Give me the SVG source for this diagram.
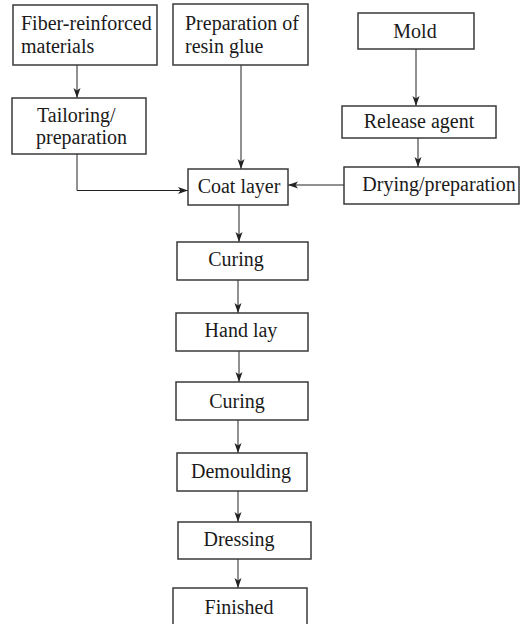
<svg xmlns="http://www.w3.org/2000/svg" width="523" height="624" viewBox="0 0 523 624">
<style>
.box{fill:#fff;stroke:#3a3a3a;stroke-width:1.5}
.t{font-family:"Liberation Serif","Times New Roman",serif;font-size:20px;fill:#1a1a1a}
.m{text-anchor:middle}
.c{fill:none;stroke:#222;stroke-width:1;marker-end:url(#ah)}
</style>
<defs>
<marker id="ah" viewBox="0 0 10 10" refX="10" refY="5" markerWidth="10" markerHeight="10" markerUnits="userSpaceOnUse" orient="auto">
<path d="M0,1.5 L10,5 L0,8.5 L2.5,5 Z" fill="#222"/>
</marker>
</defs>
<rect width="523" height="624" fill="#fff"/>
<g id="connectors">
<path class="c" d="M77,65 V98"/>
<path class="c" d="M241,65 V169"/>
<path class="c" d="M77,154 V190.5 H188"/>
<path class="c" d="M416,49 V106"/>
<path class="c" d="M418,138 V167"/>
<path class="c" d="M344,185 H288"/>
<path class="c" d="M239,205 V242"/>
<path class="c" d="M238,280 V313"/>
<path class="c" d="M239,351 V382"/>
<path class="c" d="M238,420 V453"/>
<path class="c" d="M238,491 V522"/>
<path class="c" d="M238,559 V588"/>
</g>
<g id="fiber"><rect class="box" x="13" y="5" width="144" height="60"/><text class="t" x="21" y="30">Fiber-reinforced</text><text class="t" x="21" y="53">materials</text></g>
<g id="resin"><rect class="box" x="173" y="4" width="135" height="61"/><text class="t" x="185" y="30">Preparation of</text><text class="t" x="185" y="53">resin glue</text></g>
<g id="mold"><rect class="box" x="358" y="13" width="116" height="36"/><text class="t m" x="415" y="38">Mold</text></g>
<g id="tailoring"><rect class="box" x="12" y="98" width="134" height="56"/><text class="t" x="37" y="122">Tailoring/</text><text class="t" x="36" y="144">preparation</text></g>
<g id="release"><rect class="box" x="342" y="106" width="154" height="32"/><text class="t m" x="419" y="128">Release agent</text></g>
<g id="drying"><rect class="box" x="344" y="167" width="175" height="37"/><text class="t m" x="439" y="191">Drying/preparation</text></g>
<g id="coat"><rect class="box" x="188" y="169" width="100" height="36"/><text class="t m" x="239" y="193">Coat layer</text></g>
<g id="curing1"><rect class="box" x="177" y="242" width="131" height="38"/><text class="t m" x="236" y="266">Curing</text></g>
<g id="handlay"><rect class="box" x="176" y="313" width="132" height="38"/><text class="t m" x="241" y="337">Hand lay</text></g>
<g id="curing2"><rect class="box" x="176" y="382" width="132" height="38"/><text class="t m" x="237" y="408">Curing</text></g>
<g id="demoulding"><rect class="box" x="177" y="453" width="130" height="38"/><text class="t m" x="241" y="478">Demoulding</text></g>
<g id="dressing"><rect class="box" x="178" y="522" width="133" height="37"/><text class="t m" x="239" y="546">Dressing</text></g>
<g id="finished"><rect class="box" x="173" y="588" width="134" height="40"/><text class="t m" x="239" y="614">Finished</text></g>
</svg>
